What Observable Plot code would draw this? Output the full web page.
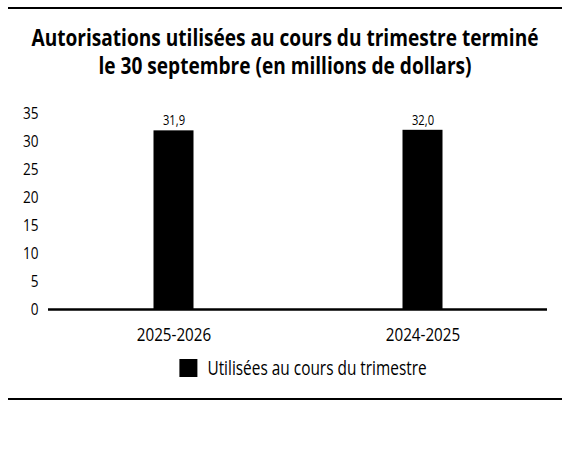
<!DOCTYPE html>
<html>
<head>
<meta charset="utf-8">
<script src="https://cdn.jsdelivr.net/npm/d3@7"></script>
<script src="https://cdn.jsdelivr.net/npm/@observablehq/plot@0.6"></script>
<style>
  html, body { margin: 0; padding: 0; background: #fff; }
  #wrap { width: 570px; font-family: "Open Sans", sans-serif; color: #000; }
  .rule { margin: 0 8px; height: 2px; background: #000; }
  svg.block { display: block; }
  #chart { height: 265px; }
</style>
</head>
<body>
<div id="wrap">
  <svg id="title" class="block" width="570" height="79" font-family="Open Sans, sans-serif" font-weight="bold" font-size="23" text-anchor="middle">
    <rect x="8" y="7" width="554" height="2" fill="#000"></rect>
    <text x="285" y="46">Autorisations utilisées au cours du trimestre terminé</text>
    <text x="285" y="74">le 30 septembre (en millions de dollars)</text>
  </svg>
  <div id="chart"></div>
  <svg id="legend" class="block" width="570" height="18" style="margin-top:15px" font-family="Open Sans, sans-serif" font-size="20">
    <g id="legendG"><rect x="0" y="0" width="18" height="18" fill="#000"></rect><text id="legendText" x="28" y="16"></text></g>
  </svg>
  <div class="rule" style="margin-top:21px"></div>
</div>
<script>
const categories = ["2025-2026", "2024-2025"];
const values = [31.9, 32.0];
const valueLabels = ["31,9", "32,0"];
const yTicks = [0, 5, 10, 15, 20, 25, 30, 35];
const seriesName = "Utilisées au cours du trimestre";

const data = categories.map((c, i) => ({ cat: c, value: values[i], label: valueLabels[i] }));

const condense = 0.8;

const plot = Plot.plot({
  width: 570,
  height: 265,
  marginTop: 34,
  marginBottom: 35,
  marginLeft: 48,
  marginRight: 23,
  style: { fontFamily: '"Open Sans", sans-serif', fontSize: "17px", background: "#fff", color: "#000" },
  x: { domain: categories, padding: 0, label: null },
  y: { domain: [0, 35], label: null },
  marks: [
    Plot.axisY({ ticks: yTicks, tickSize: 0, tickPadding: 10, fontSize: 17, label: null }),
    Plot.axisX({ tickSize: 0, tickPadding: 18, fontSize: 19, label: null }),
    Plot.barY(data, { x: "cat", y: "value", fill: "#000", insetLeft: 104.5, insetRight: 104.5 }),
    Plot.text(data, { x: "cat", y: "value", text: "label", dy: -10, fontSize: 14, fill: "#000" }),
    Plot.ruleY([0], { stroke: "#000", strokeWidth: 2.5 })
  ]
});
document.getElementById("chart").appendChild(plot);

// condense SVG text horizontally about its anchor point (reference uses a condensed face)
const SVGNS = "http://www.w3.org/2000/svg";
Array.from(plot.querySelectorAll("text")).forEach(t => {
  const ax = parseFloat(t.getAttribute("x")) || 0;
  const old = t.getAttribute("transform") || "";
  const g = document.createElementNS(SVGNS, "g");
  g.setAttribute("transform", `${old} translate(${ax},0) scale(${condense},1) translate(${-ax},0)`.trim());
  t.parentNode.insertBefore(g, t);
  t.removeAttribute("transform");
  g.appendChild(t);
});

// title: condensed so that the first line spans the reference width
const tLines = document.querySelectorAll("#title text");
const tf = 507 / tLines[0].getComputedTextLength();
tLines.forEach(t => {
  t.setAttribute("textLength", (t.getComputedTextLength() * tf).toFixed(2));
  t.setAttribute("lengthAdjust", "spacingAndGlyphs");
});

// legend: swatch + condensed label, centred under the plot area
const lt = document.getElementById("legendText");
lt.textContent = seriesName;
const lw = lt.getComputedTextLength() * 0.77;
lt.setAttribute("textLength", lw.toFixed(2));
lt.setAttribute("lengthAdjust", "spacingAndGlyphs");
const totalW = 28 + lw;
document.getElementById("legendG").setAttribute("transform", `translate(${(303 - totalW / 2).toFixed(1)},0)`);
</script>
</body>
</html>
